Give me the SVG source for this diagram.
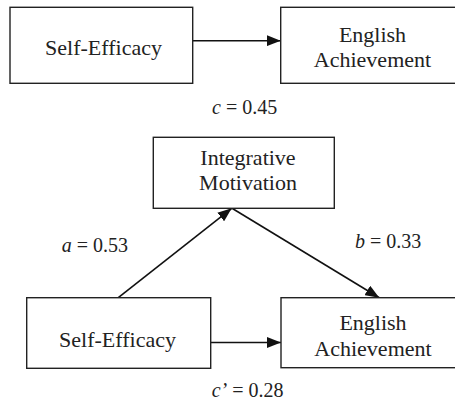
<svg xmlns="http://www.w3.org/2000/svg" width="455" height="401" viewBox="0 0 455 401">
<style>
.box{fill:#fff;stroke:#222;stroke-width:1.4}
.t{font-family:'Liberation Serif','Times New Roman','DejaVu Serif',serif;font-size:22px;fill:#222;text-anchor:middle}
.l{font-family:'Liberation Serif','Times New Roman','DejaVu Serif',serif;font-size:20px;fill:#222}
.i{font-style:italic}
.c{stroke:#111;stroke-width:1.6;fill:none;marker-end:url(#ah)}
</style>
<defs>
<marker id="ah" markerUnits="userSpaceOnUse" markerWidth="14" markerHeight="11" refX="14" refY="5.5" orient="auto">
<path d="M0,0 L14,5.5 L0,11 z" fill="#111"/>
</marker>
</defs>
<rect width="455" height="401" fill="#fff"/>
<g id="connectors">
<line class="c" x1="193" y1="40.7" x2="280.7" y2="40.7"/>
<line class="c" x1="208.3" y1="342.5" x2="281" y2="342.5"/>
<line class="c" x1="118.3" y1="297.7" x2="231.7" y2="208.3"/>
<line class="c" x1="232" y1="208.3" x2="379.3" y2="297.7"/>
</g>
<g id="self-efficacy-1">
<rect class="box" x="10" y="7.3" width="182.7" height="76"/>
<text class="t" x="103.5" y="55" font-family="Liberation Serif, serif">Self-Efficacy</text>
</g>
<g id="english-1">
<rect class="box" x="280.7" y="7.3" width="184" height="76"/>
<text class="t" x="372.5" y="41.7">English</text>
<text class="t" x="372.5" y="66.7">Achievement</text>
</g>
<g id="integrative">
<rect class="box" x="153.3" y="137.3" width="181" height="71"/>
<text class="t" x="248" y="165">Integrative</text>
<text class="t" x="248" y="190">Motivation</text>
</g>
<g id="self-efficacy-2">
<rect class="box" x="26.7" y="297.7" width="184" height="70.6"/>
<text class="t" x="117.5" y="346.7">Self-Efficacy</text>
</g>
<g id="english-2">
<rect class="box" x="281" y="297.7" width="184" height="70"/>
<text class="t" x="373" y="330">English</text>
<text class="t" x="373" y="355.5">Achievement</text>
</g>
<g id="labels">
<text class="l" x="212" y="114"><tspan class="i">c</tspan> = 0.45</text>
<text class="l" x="61.7" y="251.7"><tspan class="i">a</tspan> = 0.53</text>
<text class="l" x="355" y="247.5"><tspan class="i">b</tspan> = 0.33</text>
<text class="l" x="211.7" y="396.7"><tspan class="i">c’</tspan> = 0.28</text>
</g>
</svg>
